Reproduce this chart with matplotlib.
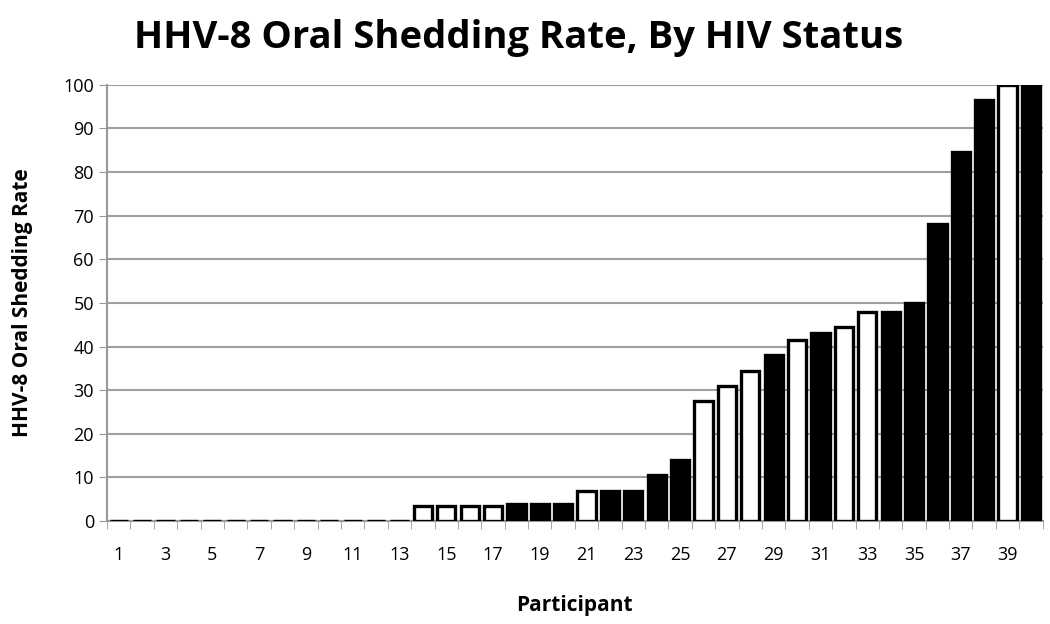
import matplotlib.pyplot as plt
import numpy as np

# participant number, shedding rate and HIV status (1 = positive / black bar)
participants = list(range(1, 41))
rates = [0, 0, 0, 0, 0, 0, 0, 0, 0, 0, 0, 0, 0,
         3.5, 3.5, 3.5, 3.5, 4, 4, 4, 7, 7, 7, 10.5, 14,
         27.5, 31, 34.5, 38, 41.5, 43, 44.5, 48, 48, 50,
         68, 84.5, 96.5, 100, 100]
hiv_pos = [0] * 13 + [0, 0, 0, 0, 1, 1, 1, 0, 1, 1, 1, 1,
                      0, 0, 0, 1, 0, 1, 0, 0, 1, 1,
                      1, 1, 1, 0, 1]

plt.rcParams['font.family'] = ['Open Sans', 'DejaVu Sans']

fig = plt.figure(figsize=(10.5, 6.24), dpi=100)
ax = fig.add_axes([0.102, 0.165, 0.891, 0.699])

colors = ['black' if h else 'white' for h in hiv_pos]
ax.bar(participants, rates, width=0.78, color=colors, edgecolor='black',
       linewidth=2.4, zorder=3)

ax.set_xlim(0.5, 40.5)
ax.set_ylim(0, 100)
ax.set_yticks(np.arange(0, 101, 10))
ax.set_xticks(range(1, 41, 2))
ax.set_xticks(np.arange(0.5, 41, 1), minor=True)
ax.tick_params(axis='x', which='major', length=0, labelsize=13, pad=18)
ax.tick_params(axis='x', which='minor', length=6, color='#999999')
ax.tick_params(axis='y', length=6, color='#999999', labelsize=13)
ax.yaxis.grid(True, color='#a0a0a0', linewidth=1.5, zorder=0)
for s in ['top', 'right']:
    ax.spines[s].set_visible(False)
for s in ['left', 'bottom']:
    ax.spines[s].set_color('#999999')
    ax.spines[s].set_linewidth(1.5)

ax.set_xlabel('Participant', fontsize=15, fontweight='bold', labelpad=22)
ax.set_ylabel('HHV-8 Oral Shedding Rate', fontsize=15, fontweight='bold', labelpad=22)
fig.suptitle('HHV-8 Oral Shedding Rate, By HIV Status', fontsize=27.5,
             fontweight='bold', x=0.494, y=0.97)

fig.savefig('out.png', dpi=100)
